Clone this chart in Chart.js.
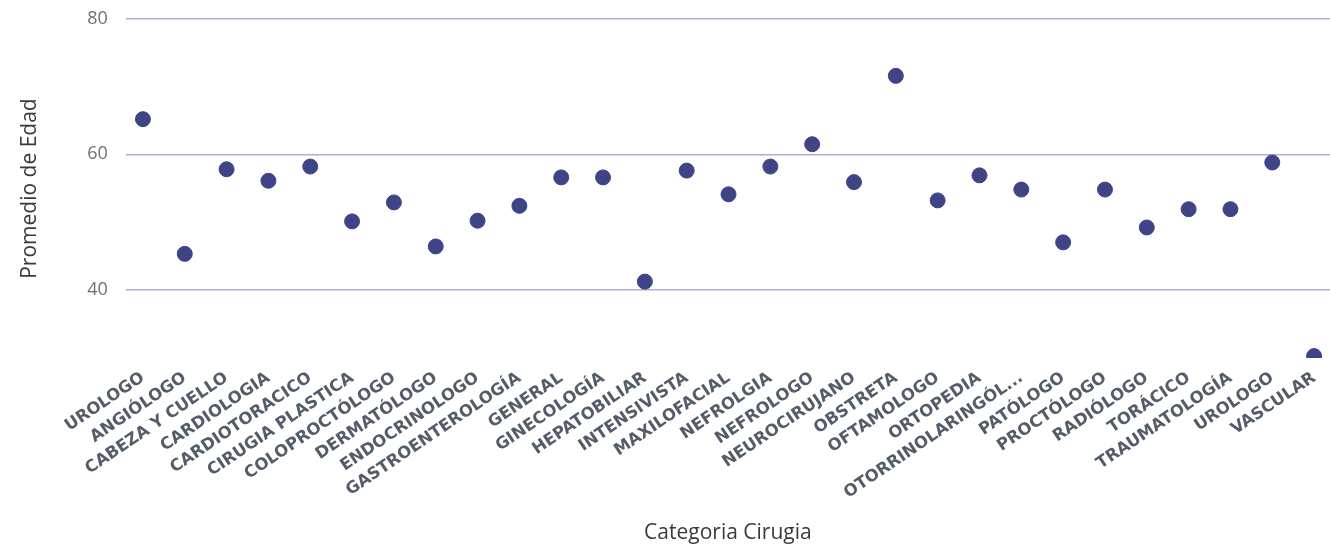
<!DOCTYPE html>
<html>
<head>
<meta charset="utf-8">
<script src="https://cdn.jsdelivr.net/npm/chart.js@4"></script>
<style>
  html, body { margin:0; padding:0; background:#fff; overflow:hidden; }
  #wrap { width:1330px; height:548px; }
</style>
</head>
<body>
<div id="wrap"><canvas id="chart" width="1330" height="548"></canvas></div>
<script>
// categorías (eje X) y promedio de edad por categoría
const categorias = ['UROLOGO','ANGIÓLOGO','CABEZA Y CUELLO','CARDIOLOGIA','CARDIOTORACICO','CIRUGIA PLASTICA',
  'COLOPROCTÓLOGO','DERMATÓLOGO','ENDOCRINOLOGO','GASTROENTEROLOGÍA','GENERAL','GINECOLOGÍA','HEPATOBILIAR',
  'INTENSIVISTA','MAXILOFACIAL','NEFROLGIA','NEFROLOGO','NEUROCIRUJANO','OBSTRETA','OFTAMOLOGO','ORTOPEDIA',
  'OTORRINOLARINGÓL...','PATÓLOGO','PROCTÓLOGO','RADIÓLOGO','TORÁCICO','TRAUMATOLOGÍA','UROLOGO','VASCULAR'];
const promedioEdad = [65.2,45.3,57.8,56.1,58.2,50.1,52.9,46.4,50.2,52.4,56.6,56.6,41.2,
  57.6,54.1,58.2,61.5,55.9,71.6,53.2,56.9,54.8,47.0,54.8,49.2,51.9,51.9,58.8,30.2];
const ticksY = [40,60,80];

const puntos = promedioEdad.map((v,i)=>({x:i,y:v}));

new Chart(document.getElementById('chart'),{
  type:'scatter',
  data:{datasets:[{
    data:puntos,
    backgroundColor:'#3f4487',
    borderColor:'#3f4487',
    pointRadius:7.5,
    pointHoverRadius:7.5,
    clip:0
  }]},
  options:{
    responsive:false,
    animation:false,
    layout:{autoPadding:false,padding:{top:19,right:0,left:17,bottom:2}},
    plugins:{legend:{display:false},tooltip:{enabled:false}},
    scales:{
      x:{
        type:'linear',
        min:-0.41,
        max:28.38,
        afterBuildTicks:s=>{ s.ticks = categorias.map((c,i)=>({value:i})); },
        // las etiquetas giradas pueden sobresalir a la izquierda
        afterFit:s=>{ s.paddingLeft = 0; s.paddingRight = 0; },
        grid:{display:false},
        border:{display:false},
        ticks:{
          autoSkip:false,
          minRotation:34,
          maxRotation:34,
          padding:2,
          color:'#535d69',
          font:{family:'DejaVu Sans',size:16.5,weight:'bold'},
          callback:v=>categorias[v]
        },
        title:{display:true,text:'Categoria Cirugia',color:'#3a3a3a',
          font:{family:'Open Sans',size:21},padding:{top:16,bottom:0}}
      },
      y:{
        min:29.9,
        max:80,
        afterBuildTicks:s=>{ s.ticks = ticksY.map(v=>({value:v})); },
        afterFit:s=>{ s.paddingTop = 0; s.paddingBottom = 0; },
        grid:{color:'#aeaed6',lineWidth:1.5,drawTicks:false},
        border:{display:false},
        ticks:{padding:18,color:'#707070',font:{family:'Open Sans',size:18}},
        title:{display:true,text:'Promedio de Edad',color:'#3a3a3a',
          font:{family:'Open Sans',size:21},padding:{top:0,bottom:27}}
      }
    }
  }
});
</script>
</body>
</html>
